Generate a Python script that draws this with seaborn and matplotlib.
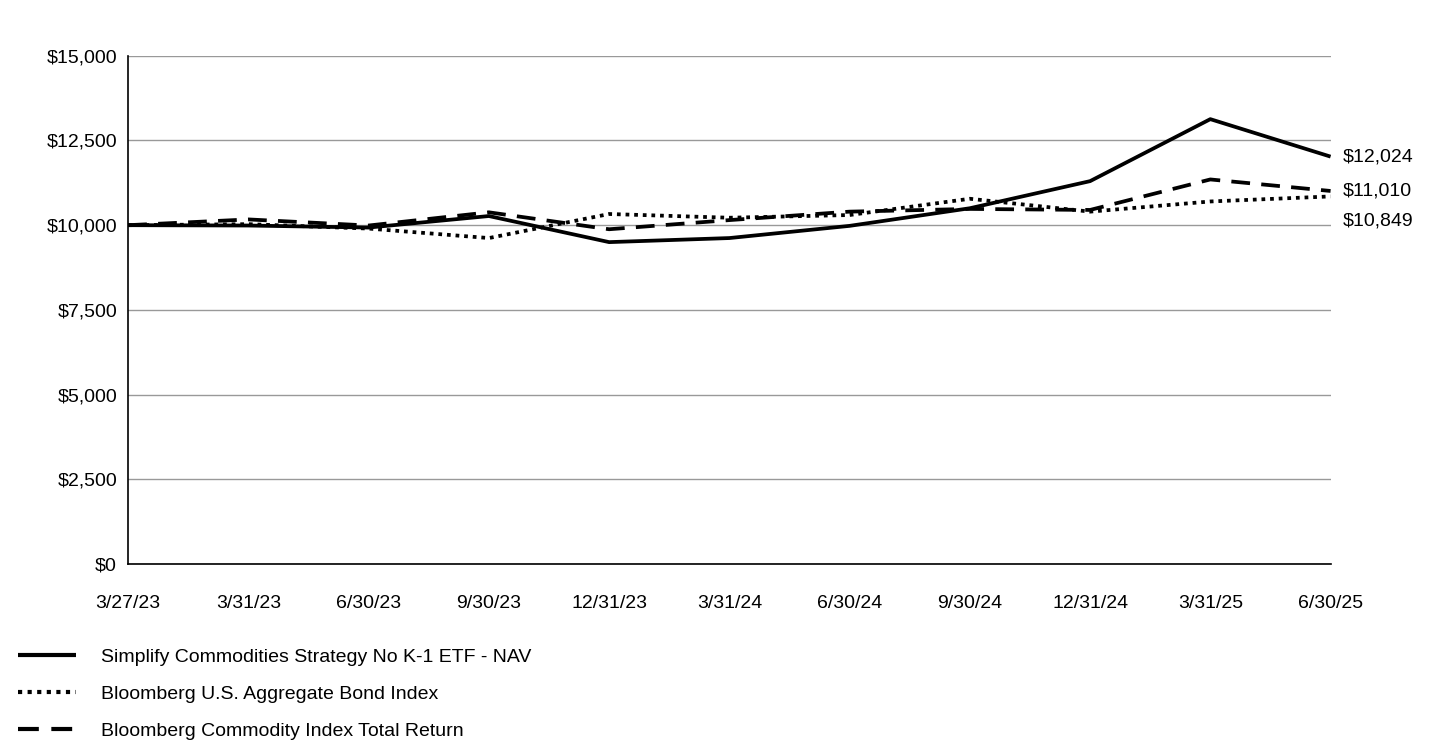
import matplotlib
matplotlib.use("Agg")
import matplotlib.pyplot as plt
import pandas as pd
import seaborn as sns
from matplotlib.lines import Line2D

dates = ["3/27/23", "3/31/23", "6/30/23", "9/30/23", "12/31/23", "3/31/24",
         "6/30/24", "9/30/24", "12/31/24", "3/31/25", "6/30/25"]
nav = [10000, 9990, 9930, 10270, 9500, 9620, 9980, 10500, 11300, 13130, 12024]
bond = [10000, 10030, 9900, 9620, 10330, 10220, 10300, 10780, 10400, 10700, 10849]
commodity = [10000, 10170, 9990, 10380, 9880, 10150, 10400, 10480, 10450, 11350, 11010]

names = ["Simplify Commodities Strategy No K-1 ETF - NAV",
         "Bloomberg U.S. Aggregate Bond Index",
         "Bloomberg Commodity Index Total Return"]
styles = [(0, ()), (0, (1, 1.3)), (0, (5, 3))]
end_labels = ["$12,024", "$11,010", "$10,849"]
end_pix = [157, 191, 221]  # label vertical positions (px from top)

sns.set_style("white")
plt.rcParams.update({"font.family": "Liberation Sans", "text.color": "black",
                     "xtick.color": "black", "ytick.color": "black"})
fig = plt.figure(figsize=(14.4, 7.44), dpi=100)
ax = fig.add_axes([0.089, 0.242, 0.835, 0.683])

x = list(range(len(dates)))
for vals, name, ls in zip([nav, bond, commodity], names, styles):
    df = pd.DataFrame({"x": x, "y": vals})
    sns.lineplot(data=df, x="x", y="y", ax=ax, color="black", lw=2.7,
                 linestyle=ls, label=name, legend=False)

ax.set_xlim(0, len(dates) - 1)
ax.set_ylim(0, 15000)
ax.set_yticks(range(0, 15001, 2500))
ax.set_yticklabels([f"${v:,.0f}" for v in range(0, 15001, 2500)], fontsize=14)
ax.set_xticks(x)
ax.set_xticklabels(dates, fontsize=14)
ax.tick_params(axis="x", pad=22, length=0)
ax.tick_params(axis="y", length=0, pad=8)
ax.set_xlabel("")
ax.set_ylabel("")
ax.yaxis.grid(True, color="#999999", lw=1)
ax.set_axisbelow(True)
for s in ["top", "right"]:
    ax.spines[s].set_visible(False)
for s in ["left", "bottom"]:
    ax.spines[s].set_color("black")
    ax.spines[s].set_linewidth(1.2)

for lab, p in zip(end_labels, end_pix):
    yv = 15000 * (564 - p) / 508
    ax.text(len(dates) - 1 + 0.1, yv, lab, fontsize=14, va="center", ha="left",
            clip_on=False)

handles = [Line2D([], [], color="black", lw=3, linestyle=ls) for ls in styles]
fig.legend(handles, names, loc="upper left", bbox_to_anchor=(0.0, 0.152),
           frameon=False, fontsize=14, handlelength=3, handletextpad=1.3,
           labelspacing=1.0)

fig.savefig("out.png", dpi=100)
